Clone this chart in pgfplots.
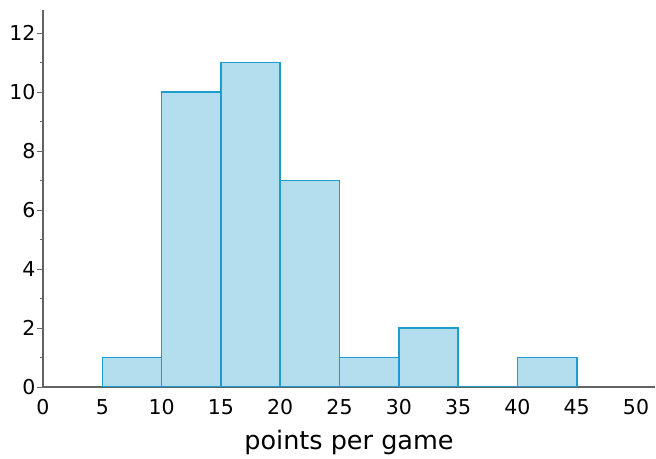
\documentclass[border=0pt]{standalone}
\usepackage{pgfplots}
\pgfplotsset{compat=1.18}
\usepackage{fontspec}
\setmainfont{DejaVu Sans}
\definecolor{barfill}{RGB}{180,222,238}
\definecolor{baredge}{RGB}{28,158,205}
\definecolor{axgray}{RGB}{100,100,100}
\begin{document}
\begin{tikzpicture}
\begin{axis}[
  name=ax,
  scale only axis,
  width=612pt, height=377pt,
  xmin=0, xmax=51.6, ymin=0, ymax=12.78,
  axis lines=left,
  axis line style={axgray, line width=1.2pt, -},
  xtick={0,5,...,50},
  ytick={0,2,...,12},
  minor ytick={1,3,...,11},
  x tick style={draw=none},
  y tick style={axgray, line width=0.8pt},
  major tick length=6pt, minor tick length=3pt,
  tick align=outside,
  /pgf/number format/assume math mode=true,
  tick label style={font=\fontsize{20.5}{23}\selectfont, text=black},
  xticklabel style={yshift=-3pt},
  yticklabel style={xshift=2pt},
  xlabel={points per game},
  xlabel style={font=\fontsize{25.5}{28}\selectfont, yshift=-8pt},
]
\addplot[ybar interval, fill=barfill, draw=baredge, line width=1.6pt]
coordinates {(5,1) (10,10) (15,11) (20,7) (25,1) (30,2) (35,0) (40,1) (45,1)};
\end{axis}
\pgfresetboundingbox
\path[use as bounding box] ([shift={(-43pt,-72pt)}]ax.south west) rectangle ([shift={(1pt,10pt)}]ax.north east);
\end{tikzpicture}
\end{document}
